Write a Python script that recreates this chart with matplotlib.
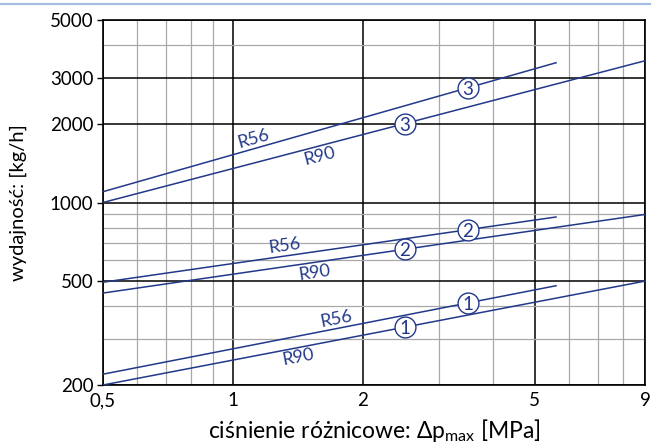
import numpy as np
import matplotlib.pyplot as plt
from matplotlib.lines import Line2D
from matplotlib.ticker import FixedLocator, NullFormatter

plt.rcParams['font.family'] = ['Lato', 'DejaVu Sans']
plt.rcParams['mathtext.fontset'] = 'custom'
plt.rcParams['mathtext.rm'] = 'Lato'

# dane (końce prostych w skali log-log)
x_r56 = [0.5, 5.6]
x_r90 = [0.5, 9.0]
r56_1 = [220, 480]
r56_2 = [495, 880]
r56_3 = [1100, 3430]
r90_1 = [200, 500]
r90_2 = [450, 900]
r90_3 = [1000, 3490]
grupy = ['1', '2', '3']

# położenia opisów na liniach
x_kolko_r56 = 3.5
x_kolko_r90 = 2.5
x_opis_r56 = [1.75, 1.33, 1.13]
x_opis_r90 = [1.40, 1.53, 1.57]

x_ticks = [0.5, 1, 2, 5, 9]
x_labels = ['0,5', '1', '2', '5', '9']
x_minor = [0.6, 0.7, 0.8, 0.9, 3, 4, 6, 7, 8]
y_ticks = [200, 500, 1000, 2000, 3000, 5000]
y_minor = [300, 400, 600, 700, 800, 900, 4000]

kolor = '#22398a'

fig = plt.figure(figsize=(6.51, 4.43), dpi=100)
ax = fig.add_axes([103 / 651, 1 - 385 / 443, 542 / 651, 365 / 443])
ax.set_xscale('log')
ax.set_yscale('log')
ax.set_xlim(0.5, 9)
ax.set_ylim(200, 5000)

ax.xaxis.set_major_locator(FixedLocator(x_ticks))
ax.set_xticklabels(x_labels)
ax.xaxis.set_minor_locator(FixedLocator(x_minor))
ax.xaxis.set_minor_formatter(NullFormatter())
ax.yaxis.set_major_locator(FixedLocator(y_ticks))
ax.set_yticklabels([str(v) for v in y_ticks])
ax.yaxis.set_minor_locator(FixedLocator(y_minor))
ax.yaxis.set_minor_formatter(NullFormatter())

ax.grid(True, which='major', color='black', lw=1.1)
ax.grid(True, which='minor', color='#a8a8a8', lw=0.9)
ax.set_axisbelow(True)
ax.tick_params(axis='x', which='both', length=0, pad=5, labelsize=13.5)
ax.tick_params(axis='y', which='major', length=4, width=1, pad=3, labelsize=13.5)
ax.tick_params(axis='y', which='minor', length=0)
for s in ax.spines.values():
    s.set_linewidth(1.2)
    s.set_color('black')

ax.set_xlabel(r'ciśnienie różnicowe: Δp$_{\mathrm{max}}$ [MPa]', fontsize=16.5, labelpad=6)
ax.set_ylabel('wydajność: [kg/h]', fontsize=14.5, labelpad=16)


def wartosc(xs, ys, x):
    # prosta w skali log-log
    a = np.log(ys[1] / ys[0]) / np.log(xs[1] / xs[0])
    return ys[0] * (x / xs[0]) ** a


def kat(xs, ys):
    p = ax.transData.transform(np.column_stack([xs, ys]))
    return np.degrees(np.arctan2(p[1, 1] - p[0, 1], p[1, 0] - p[0, 0]))


def opis(tekst, xs, ys, x, strona):
    k = kat(xs, ys)
    d = 7.0 * strona
    dx = -np.sin(np.radians(k)) * d
    dy = np.cos(np.radians(k)) * d
    ax.annotate(tekst, xy=(x, wartosc(xs, ys, x)), xytext=(dx, dy),
                textcoords='offset points', rotation=k, rotation_mode='anchor',
                ha='center', va='center', color=kolor, fontsize=13)


for g, y56, y90, xo56, xo90 in zip(grupy, [r56_1, r56_2, r56_3], [r90_1, r90_2, r90_3],
                                   x_opis_r56, x_opis_r90):
    ax.plot(x_r56, y56, color=kolor, lw=1.1, zorder=3)
    ax.plot(x_r90, y90, color=kolor, lw=1.1, zorder=3)
    for xs, ys, xk in [(x_r56, y56, x_kolko_r56), (x_r90, y90, x_kolko_r90)]:
        yk = wartosc(xs, ys, xk)
        ax.plot(xk, yk, 'o', ms=15, mfc='white', mec=kolor, mew=1.0, zorder=4)
        ax.text(xk, yk, g, color=kolor, fontsize=13.5, ha='center', va='center_baseline', zorder=5)
    opis('R56', x_r56, y56, xo56, 1)
    opis('R90', x_r90, y90, xo90, -1)

fig.add_artist(Line2D([0, 1], [1 - 4 / 443, 1 - 4 / 443], transform=fig.transFigure,
                      color='#a3bce0', lw=1.6))

fig.savefig('out.png', dpi=100)
